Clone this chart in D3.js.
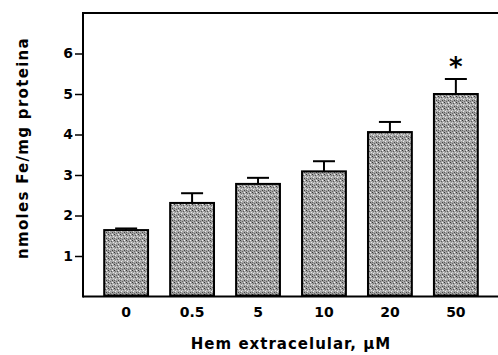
<!DOCTYPE html>
<html><head><meta charset="utf-8">
<script src="https://cdn.jsdelivr.net/npm/d3@7"></script>
<style>body{margin:0;background:#fff}svg{display:block}</style>
</head><body>
<script>
const categories = ["0", "0.5", "5", "10", "20", "50"];
const values = [1.64, 2.31, 2.78, 3.09, 4.06, 5.0];
const errors = [0.04, 0.24, 0.15, 0.25, 0.25, 0.37];
const yTicks = [1, 2, 3, 4, 5, 6];
const marks = ["", "", "", "", "", "*"];

const W = 498, H = 355;
const svg = d3.select("body").append("svg").attr("width", W).attr("height", H);
const x0 = 83, x1 = 500, yTop = 13, yBot = 296.5;
const y = d3.scaleLinear().domain([0, 7]).range([yBot, yTop]);
const x = d3.scaleBand().domain(categories).range([93, 489]).paddingInner(0.335).paddingOuter(0.17);

// stipple pattern
const defs = svg.append("defs");
const pat = defs.append("pattern").attr("id", "stip").attr("patternUnits", "userSpaceOnUse")
  .attr("width", 6).attr("height", 6);
pat.append("rect").attr("width", 6).attr("height", 6).attr("fill", "#a6a6a6");
const dots = [[0,0,"#333"],[3,1,"#555"],[1,3,"#eee"],[4,4,"#444"],[2,5,"#666"],[5,2,"#e4e4e4"],[1,1,"#777"],[4,0,"#f4f4f4"],[0,4,"#666"],[2,2,"#ccc"],[5,5,"#888"]];
dots.forEach(d => pat.append("rect").attr("x", d[0]).attr("y", d[1]).attr("width", 1).attr("height", 1).attr("fill", d[2]));

const font = "'DejaVu Sans', Arial, sans-serif";

// bars
const g = svg.append("g");
categories.forEach((c, i) => {
  const bx = x(c), bw = x.bandwidth();
  const cx = bx + bw / 2;
  const top = y(values[i] + errors[i]);
  g.append("line").attr("x1", cx).attr("x2", cx).attr("y1", y(values[i])).attr("y2", top)
    .attr("stroke", "#000").attr("stroke-width", 2);
  g.append("line").attr("x1", cx - 11).attr("x2", cx + 11).attr("y1", top).attr("y2", top)
    .attr("stroke", "#000").attr("stroke-width", 2);
  g.append("rect").attr("x", bx).attr("y", y(values[i])).attr("width", bw)
    .attr("height", y(0) - y(values[i]) - 1)
    .attr("fill", "url(#stip)").attr("stroke", "#000").attr("stroke-width", 2);
  if (marks[i]) {
    g.append("text").attr("x", cx).attr("y", top - 3).attr("text-anchor", "middle")
      .attr("font-family", font).attr("font-weight", "bold").attr("font-size", 26)
      .text(marks[i]);
  }
});

// axes frame
svg.append("line").attr("x1", x0).attr("x2", x1).attr("y1", yTop).attr("y2", yTop)
  .attr("stroke", "#000").attr("stroke-width", 2);
const yAxis = d3.axisLeft(y).tickValues(yTicks).tickSize(8).tickFormat(d3.format("d"));
const ya = svg.append("g").attr("transform", `translate(${x0},0)`).call(yAxis);
ya.select(".domain").remove();
ya.selectAll(".tick line").attr("stroke-width", 1.5);
ya.selectAll("text").attr("font-family", font).attr("font-weight", "bold").attr("font-size", 14)
  .attr("x", -10).attr("fill", "#000");
svg.append("line").attr("x1", x0).attr("x2", x0).attr("y1", yTop - 1).attr("y2", yBot + 1)
  .attr("stroke", "#000").attr("stroke-width", 2);
svg.append("line").attr("x1", x0).attr("x2", x1).attr("y1", yBot).attr("y2", yBot)
  .attr("stroke", "#000").attr("stroke-width", 2);

const xAxis = d3.axisBottom(x).tickSize(0);
const xa = svg.append("g").attr("transform", `translate(0,${yBot})`).call(xAxis);
xa.select(".domain").remove();
xa.selectAll("text").attr("font-family", font).attr("font-weight", "bold").attr("font-size", 14)
  .attr("dy", 0).attr("y", 20).attr("fill", "#000");

svg.append("text").attr("x", 291).attr("y", 349).attr("text-anchor", "middle")
  .attr("font-family", font).attr("font-weight", "bold").attr("font-size", 15)
  .attr("letter-spacing", 1)
  .text("Hem extracelular, μM");
svg.append("text").attr("transform", "translate(28,148) rotate(-90)").attr("text-anchor", "middle")
  .attr("font-family", font).attr("font-weight", "bold").attr("font-size", 15)
  .attr("letter-spacing", 1.3)
  .text("nmoles Fe/mg proteina");
</script>
</body></html>
